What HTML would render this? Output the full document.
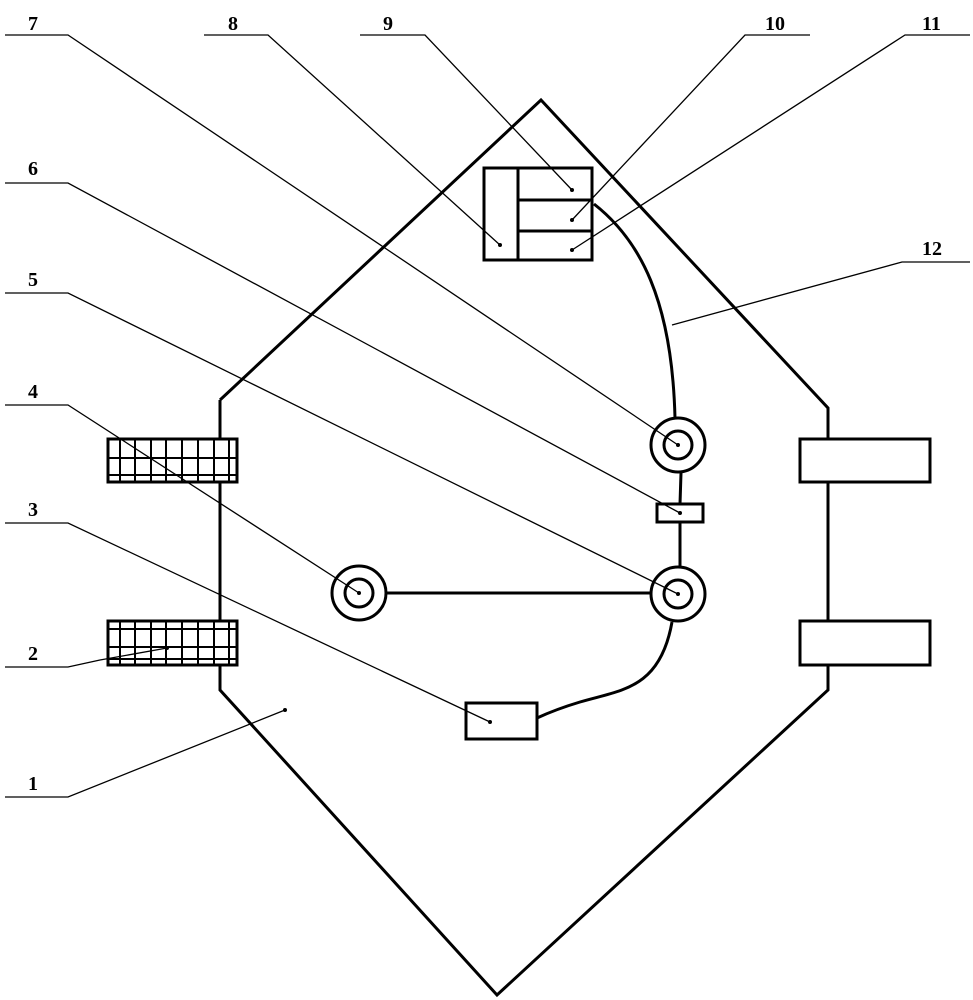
<!DOCTYPE html>
<html><head><style>
html,body{margin:0;padding:0;background:#fff;}
svg{display:block}
text{font-family:"Liberation Serif",serif;font-weight:bold;font-size:20px;fill:#000}
</style></head><body>
<svg width="973" height="1000" viewBox="0 0 973 1000" xmlns="http://www.w3.org/2000/svg">
<g stroke="#000" fill="none">
<!-- hull -->
<polyline points="220,400 541,100 828,408 828,690 497,995 220,690 220,400" stroke-width="3"/>
<!-- controller box -->
<rect x="484" y="168" width="108" height="92" stroke-width="3" fill="#fff"/>
<line x1="518" y1="168" x2="518" y2="260" stroke-width="3"/>
<line x1="518" y1="200" x2="592" y2="200" stroke-width="3"/>
<line x1="518" y1="231" x2="592" y2="231" stroke-width="3"/>
<!-- wires -->
<path d="M594,204 C640,240 672,300 675,418" stroke-width="3"/>
<path d="M681,473 L680,504 M680,523 L680,566" stroke-width="3"/>
<line x1="386" y1="593" x2="650" y2="593" stroke-width="3"/>
<path d="M672,622 C660,690 620,690 580,702 C560,708 550,712 537,718" stroke-width="3"/>
<!-- circles -->
<circle cx="678" cy="445" r="27" stroke-width="3" fill="#fff"/>
<circle cx="678" cy="445" r="14" stroke-width="3"/>
<circle cx="678" cy="594" r="27" stroke-width="3" fill="#fff"/>
<circle cx="678" cy="594" r="14" stroke-width="3"/>
<circle cx="359" cy="593" r="27" stroke-width="3" fill="#fff"/>
<circle cx="359" cy="593" r="14" stroke-width="3"/>
<rect x="657" y="504" width="46" height="18" stroke-width="3" fill="#fff"/>
<rect x="466" y="703" width="71" height="36" stroke-width="3" fill="#fff"/>
<!-- right tyres -->
<rect x="800" y="439" width="130" height="43" stroke-width="3" fill="#fff"/>
<rect x="800" y="621" width="130" height="44" stroke-width="3" fill="#fff"/>
<!-- left tyres -->
<rect x="108" y="439" width="129" height="43" stroke-width="3" fill="#fff"/>
<g stroke-width="2">
<path d="M120,439V482M135,439V482M151,439V482M166,439V482M182,439V482M198,439V482M214,439V482M229,439V482M108,458H237M108,475H237"/>
</g>
<rect x="108" y="621" width="129" height="44" stroke-width="3" fill="#fff"/>
<g stroke-width="2">
<path d="M120,621V665M135,621V665M151,621V665M166,621V665M182,621V665M198,621V665M214,621V665M229,621V665M108,629H237M108,647H237M108,659H237"/>
</g>
<!-- leader lines on top -->
<g stroke-width="1.3">
<polyline points="5,35 68,35 678,445"/>
<polyline points="204,35 268,35 500,245"/>
<polyline points="360,35 425,35 572,190"/>
<polyline points="810,35 745,35 572,220"/>
<polyline points="970,35 905,35 572,250"/>
<polyline points="970,262 902,262 672,325"/>
<polyline points="5,183 68,183 680,513"/>
<polyline points="5,293 68,293 678,594"/>
<polyline points="5,405 68,405 359,593"/>
<polyline points="5,523 68,523 490,722"/>
<polyline points="5,667 68,667 100,660 167,648"/>
<polyline points="5,797 68,797 285,710"/>
</g>
</g>
<g fill="#000">
<circle cx="678" cy="445" r="2"/><circle cx="678" cy="594" r="2"/><circle cx="359" cy="593" r="2"/>
<circle cx="500" cy="245" r="2"/><circle cx="572" cy="190" r="2"/><circle cx="572" cy="220" r="2"/><circle cx="572" cy="250" r="2"/>
<circle cx="490" cy="722" r="2"/><circle cx="285" cy="710" r="2"/><circle cx="167" cy="648" r="2"/><circle cx="680" cy="513" r="2"/>
</g>
<text x="28" y="30">7</text>
<text x="228" y="30">8</text>
<text x="383" y="30">9</text>
<text x="765" y="30">10</text>
<text x="922" y="30">11</text>
<text x="922" y="255">12</text>
<text x="28" y="175">6</text>
<text x="28" y="286">5</text>
<text x="28" y="398">4</text>
<text x="28" y="516">3</text>
<text x="28" y="660">2</text>
<text x="28" y="790">1</text>
</svg>
</body></html>
